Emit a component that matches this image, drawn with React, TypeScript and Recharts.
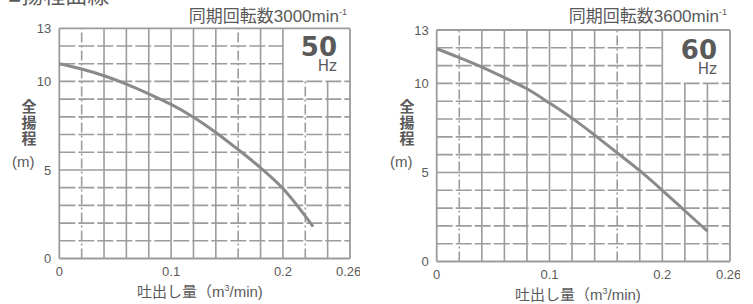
import { LineChart, Line, XAxis, YAxis, ReferenceLine } from 'recharts';

const flow50 = [0, 0.02, 0.04, 0.06, 0.08, 0.1, 0.12, 0.14, 0.16, 0.18, 0.2, 0.227];
const head50 = [11.0, 10.7, 10.32, 9.85, 9.3, 8.7, 7.98, 7.12, 6.15, 5.12, 3.95, 1.8];

const flow60 = [0, 0.02, 0.04, 0.06, 0.08, 0.1, 0.12, 0.14, 0.16, 0.18, 0.2, 0.22, 0.24];
const head60 = [11.95, 11.45, 10.92, 10.33, 9.7, 8.9, 8.05, 7.1, 6.1, 5.1, 4.0, 2.85, 1.7];

const xTicks = [0, 0.1, 0.2, 0.26];
const yTicks = [0, 5, 10, 13];
const xGrid = [0.02, 0.04, 0.06, 0.08, 0.1, 0.12, 0.14, 0.16, 0.18, 0.2, 0.22, 0.24];
const yGrid = [1, 2, 3, 4, 5, 6, 7, 8, 9, 10, 11, 12];

const GRID = '#9c9c9c';
const TEXT = '#5a5a5a';
const FONT = '"Liberation Sans", "Noto Sans CJK JP", sans-serif';

interface PumpChartProps {
  left: number;
  top: number;
  bottom: number;
  marginLeft: number;
  xs: number[];
  ys: number[];
  dashedX: number[];
  rpm: string;
  hz: string;
  hzTop: number;
}

function PumpChart({ left, top, bottom, marginLeft, xs, ys, dashedX, rpm, hz, hzTop }: PumpChartProps) {
  const data = xs.map((x, i) => ({ q: x, h: ys[i] }));
  const W = 360;
  return (
    <div style={{ position: 'absolute', left, top: 0, width: W, height: 304 }}>
      <LineChart
        width={W}
        height={304}
        data={data}
        margin={{ top, right: 10, bottom, left: marginLeft }}
      >
        <XAxis
          dataKey="q"
          type="number"
          domain={[0, 0.26]}
          ticks={xTicks}
          tickFormatter={(v) => String(v)}
          tick={{ fill: TEXT, fontSize: 13, fontFamily: FONT }}
          axisLine={false}
          tickLine={false}
          height={30}
          tickMargin={2}
        />
        <YAxis
          type="number"
          domain={[0, 13]}
          ticks={yTicks}
          tick={{ fill: TEXT, fontSize: 13, fontFamily: FONT }}
          axisLine={false}
          tickLine={false}
          width={40}
          tickMargin={2}
        />
        {yGrid.map((y) => (
          <ReferenceLine
            key={'h' + y}
            segment={[{ x: 0, y }, { x: y > 10 ? 0.2 : 0.26, y }]}
            stroke={GRID}
            strokeWidth={1.6}
            strokeDasharray={y === 5 ? undefined : '16 3'}
          />
        ))}
        {xGrid.map((x) => (
          <ReferenceLine
            key={'v' + x}
            segment={[{ x, y: 0 }, { x, y: x > 0.2 ? 10 : 13 }]}
            stroke={GRID}
            strokeWidth={1.6}
            strokeDasharray={dashedX.includes(x) ? '10 3 2 3' : undefined}
          />
        ))}
        <ReferenceLine x={0} stroke={GRID} strokeWidth={1.8} />
        <ReferenceLine x={0.26} stroke={GRID} strokeWidth={1.8} />
        <ReferenceLine y={0} stroke={GRID} strokeWidth={1.8} />
        <ReferenceLine y={13} stroke={GRID} strokeWidth={1.8} />
        <Line
          type="monotone"
          dataKey="h"
          stroke="#8a8a8a"
          strokeWidth={3}
          dot={false}
          isAnimationActive={false}
        />
      </LineChart>
      <div
        style={{
          position: 'absolute',
          right: 13,
          top: 8,
          fontSize: 17,
          color: TEXT,
          fontFamily: FONT,
          whiteSpace: 'nowrap',
          lineHeight: 1,
        }}
      >
        同期回転数{rpm}min<sup style={{ fontSize: 9, verticalAlign: 'top', lineHeight: 1 }}>-1</sup>
      </div>
      <div
        style={{
          position: 'absolute',
          right: 23,
          top: hzTop,
          fontSize: 26,
          fontWeight: 'bold',
          color: TEXT,
          fontFamily: '"DejaVu Sans", sans-serif',
          lineHeight: '20px',
        }}
      >
        {hz}
      </div>
      <div
        style={{
          position: 'absolute',
          right: 23,
          top: hzTop + 22,
          fontSize: 15,
          color: TEXT,
          fontFamily: '"DejaVu Sans", sans-serif',
          lineHeight: '15px',
        }}
      >
        Hz
      </div>
    </div>
  );
}

function AxisTitles({ left, shiftY }: { left: number; shiftY: number }) {
  return (
    <>
      <div
        style={{
          position: 'absolute',
          left: left + 20,
          top: 99,
          width: 18,
          fontSize: 15,
          lineHeight: '16px',
          fontWeight: 'bold',
          color: TEXT,
          fontFamily: FONT,
          textAlign: 'center',
        }}
      >
        全<br />揚<br />程
      </div>
      <div
        style={{
          position: 'absolute',
          left: left + 12,
          top: 154,
          fontSize: 15,
          color: TEXT,
          fontFamily: FONT,
          lineHeight: 1,
        }}
      >
        (m)
      </div>
      <div
        style={{
          position: 'absolute',
          left: left + 137,
          top: 284 + shiftY,
          fontSize: 15,
          color: TEXT,
          fontFamily: FONT,
          whiteSpace: 'nowrap',
          lineHeight: 1,
        }}
      >
        吐出し量（m<sup style={{ fontSize: 9, verticalAlign: 'top' }}>3</sup>/min)
      </div>
    </>
  );
}

export default function App() {
  return (
    <div
      style={{
        position: 'absolute',
        left: 0,
        top: 0,
        width: 753,
        height: 304,
        background: '#ffffff',
        overflow: 'hidden',
      }}
    >
      <div
        style={{
          position: 'absolute',
          left: 8,
          top: -15,
          fontSize: 22,
          color: TEXT,
          fontFamily: FONT,
          lineHeight: 1,
          whiteSpace: 'nowrap',
        }}
      >
        ■揚程曲線
      </div>
      <PumpChart
        left={0}
        top={28.3}
        bottom={15.5}
        marginLeft={19.3}
        xs={flow50}
        ys={head50}
        dashedX={[0.02, 0.16, 0.22]}
        rpm="3000"
        hz="50"
        hzTop={37}
      />
      <PumpChart
        left={380}
        top={30}
        bottom={12.5}
        marginLeft={16.7}
        xs={flow60}
        ys={head60}
        dashedX={[0.02, 0.16]}
        rpm="3600"
        hz="60"
        hzTop={40}
      />
      <AxisTitles left={0} shiftY={0} />
      <AxisTitles left={378} shiftY={3} />
    </div>
  );
}
